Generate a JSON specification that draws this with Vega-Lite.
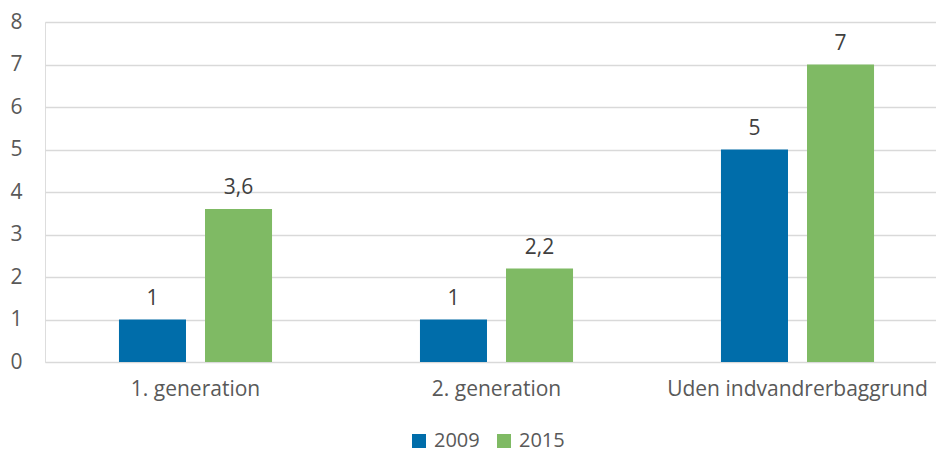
{
  "$schema": "https://vega.github.io/schema/vega-lite/v6.json",
  "width": 891,
  "height": 340,
  "autosize": {"type": "none"},
  "padding": {"left": 45, "top": 22, "right": 0, "bottom": 91},
  "background": "white",
  "data": {
    "values": [
      {"group": "1. generation", "year": "2009", "value": 1, "label": "1"},
      {"group": "1. generation", "year": "2015", "value": 3.6, "label": "3,6"},
      {"group": "2. generation", "year": "2009", "value": 1, "label": "1"},
      {"group": "2. generation", "year": "2015", "value": 2.2, "label": "2,2"},
      {"group": "Uden indvandrerbaggrund", "year": "2009", "value": 5, "label": "5"},
      {"group": "Uden indvandrerbaggrund", "year": "2015", "value": 7, "label": "7"}
    ]
  },
  "encoding": {
    "x": {
      "field": "group",
      "type": "nominal",
      "sort": null,
      "scale": {"range": [0, 903], "paddingInner": 0.4286, "paddingOuter": 0.2143},
      "axis": {
        "title": null,
        "labelAngle": 0,
        "ticks": false,
        "domain": false,
        "labelPadding": 16,
        "labelFontSize": 21,
        "labelLimit": 0,
        "labelFont": "Open Sans",
        "labelColor": "#595959"
      }
    },
    "xOffset": {
      "field": "year",
      "type": "nominal",
      "scale": {"paddingInner": 0.221, "paddingOuter": 0.11}
    },
    "y": {
      "field": "value",
      "type": "quantitative",
      "scale": {"domain": [0, 8]},
      "axis": {
        "title": null,
        "values": [0, 1, 2, 3, 4, 5, 6, 7, 8],
        "ticks": false,
        "domain": false,
        "grid": true,
        "gridColor": "#D9D9D9",
        "gridWidth": 1.5,
        "labelPadding": 23,
        "labelFontSize": 21,
        "labelFont": "Open Sans",
        "labelColor": "#595959"
      }
    }
  },
  "layer": [
    {
      "mark": {"type": "bar"},
      "encoding": {
        "color": {
          "field": "year",
          "type": "nominal",
          "scale": {"domain": ["2009", "2015"], "range": ["#006DAA", "#7FBA64"]},
          "legend": {
            "title": null,
            "orient": "none",
            "direction": "horizontal",
            "legendX": 364,
            "legendY": 409,
            "symbolType": "square",
            "symbolSize": 196,
            "symbolStrokeWidth": 0,
            "labelFontSize": 20,
            "labelFont": "Open Sans",
            "labelColor": "#595959",
            "labelOffset": 5,
            "columnPadding": 14
          }
        }
      }
    },
    {
      "mark": {"type": "text", "baseline": "alphabetic", "dy": -15, "fontSize": 21, "font": "Open Sans", "color": "#404040"},
      "encoding": {
        "text": {"field": "label"}
      }
    }
  ]
}
